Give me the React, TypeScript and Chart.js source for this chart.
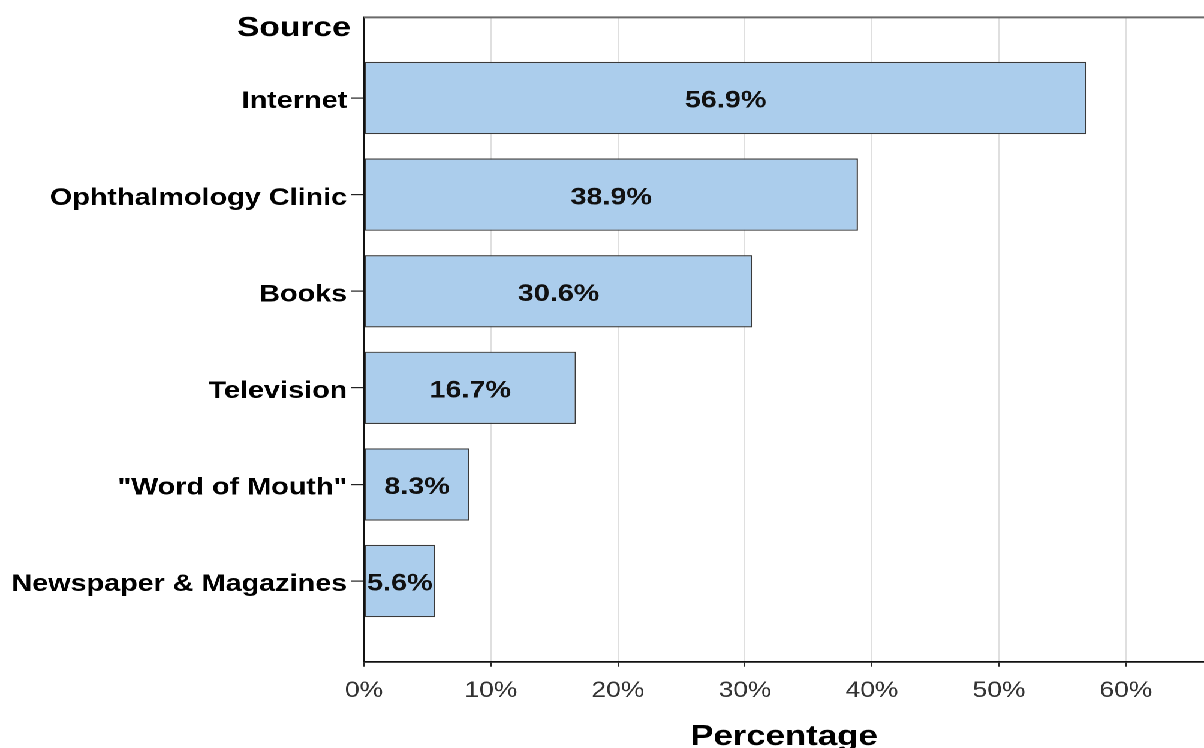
import React, { useEffect, useRef } from "react";
import { Chart, registerables } from "chart.js";

Chart.register(...registerables);

// ---- data ----
const categories = [
  "Internet",
  "Ophthalmology Clinic",
  "Books",
  "Television",
  '"Word of Mouth"',
  "Newspaper & Magazines",
];
const percentages = [56.9, 38.9, 30.6, 16.7, 8.3, 5.6];
const xTickValues = [0, 10, 20, 30, 40, 50, 60];
const yAxisTitle = "Source";
const xAxisTitle = "Percentage";

// ---- layout (internal canvas space, stretched horizontally by CSS) ----
const OUT_W = 1204;
const H = 748;
const W = 1004;
const STRETCH = OUT_W / W;
const FONT = "'Liberation Sans', Arial, Helvetica, sans-serif";

const decorPlugin = {
  id: "decor",
  afterDraw(chart: any) {
    const { ctx, chartArea } = chart;
    ctx.save();
    // top frame line
    ctx.strokeStyle = "#6a6a6a";
    ctx.lineWidth = 2;
    ctx.beginPath();
    ctx.moveTo(chartArea.left, chartArea.top);
    ctx.lineTo(chartArea.right, chartArea.top);
    ctx.stroke();

    // value labels inside bars
    const meta = chart.getDatasetMeta(0);
    ctx.fillStyle = "#111";
    ctx.font = `bold 24px ${FONT}`;
    ctx.textAlign = "center";
    ctx.textBaseline = "middle";
    meta.data.forEach((el: any, i: number) => {
      const cx = (el.x + el.base) / 2;
      ctx.fillText(percentages[i].toFixed(1) + "%", cx, el.y + 3);
    });

    // y axis title (top-left)
    ctx.fillStyle = "#000";
    ctx.font = `bold 28px ${FONT}`;
    ctx.textAlign = "right";
    ctx.textBaseline = "alphabetic";
    ctx.fillText(yAxisTitle, chartArea.left - 11, 36);

    // x axis title
    ctx.font = `bold 29px ${FONT}`;
    ctx.textAlign = "center";
    ctx.fillText(xAxisTitle, (chartArea.left + chartArea.right) / 2, 745);
    ctx.restore();
  },
};

export default function App() {
  const ref = useRef<HTMLCanvasElement | null>(null);

  useEffect(() => {
    if (!ref.current) return;
    const chart = new Chart(ref.current, {
      type: "bar",
      data: {
        datasets: [
          {
            data: categories.map((_, i) => ({ x: percentages[i], y: i })),
            backgroundColor: "#abcdec",
            borderColor: "#3a3a3a",
            borderWidth: 1.2,
            borderSkipped: false,
            barPercentage: 0.748,
            categoryPercentage: 1,
          },
        ],
      },
      options: {
        indexAxis: "y",
        animation: false,
        responsive: false,
        devicePixelRatio: 2,
        layout: { padding: { top: 13.5, left: 0, right: 0, bottom: 0 } },
        plugins: {
          legend: { display: false },
          tooltip: { enabled: false },
          title: { display: false },
        },
        scales: {
          x: {
            type: "linear",
            position: "bottom",
            offset: false,
            min: 0,
            max: 66.15,
            afterBuildTicks: (s: any) => {
              s.ticks = xTickValues.map((v) => ({ value: v }));
            },
            afterFit: (s: any) => {
              s.height = H - 661.7;
            },
            ticks: {
              callback: (v: any) => `${v}%`,
              font: { family: FONT, size: 22 },
              color: "#333",
              padding: 11,
              maxRotation: 0,
              autoSkip: false,
            },
            grid: {
              offset: false,
              color: "#dcdcdc",
              lineWidth: 0.9,
              tickColor: "#111",
              tickLength: 5,
              drawTicks: true,
            },
            border: { color: "#111", width: 1.7 },
          },
          y: {
            type: "linear",
            position: "left",
            offset: false,
            reverse: true,
            min: -0.835,
            max: 5.835,
            afterBuildTicks: (s: any) => {
              s.ticks = categories.map((_, i) => ({ value: i }));
            },
            afterFit: (s: any) => {
              s.width = 364 / STRETCH;
            },
            ticks: {
              callback: (v: any) => categories[v] ?? "",
              font: { family: FONT, size: 24, weight: "bold" },
              color: "#000",
              padding: 3,
              labelOffset: 3.5,
              autoSkip: false,
            },
            grid: {
              offset: false,
              drawOnChartArea: false,
              drawTicks: true,
              tickLength: 11,
              color: "#222",
              lineWidth: 1.2,
            },
            border: { color: "#111", width: 1.7 },
          },
        },
      } as any,
      plugins: [decorPlugin],
    });
    return () => chart.destroy();
  }, []);

  return (
    <div
      style={{
        position: "absolute",
        left: 0,
        top: 0,
        width: W,
        height: H,
        background: "#fff",
        transform: `scaleX(${STRETCH})`,
        transformOrigin: "0 0",
      }}
    >
      <canvas ref={ref} width={W} height={H} />
    </div>
  );
}
